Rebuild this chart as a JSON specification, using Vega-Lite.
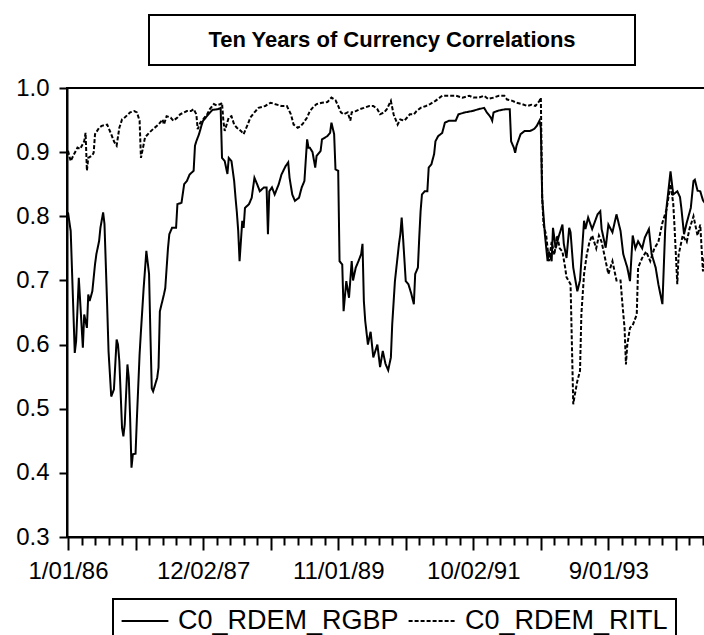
{
  "$schema": "https://vega.github.io/schema/vega-lite/v6.json",
  "padding": {"left": 14, "top": 14, "right": 0, "bottom": 0},
  "background": "white",
  "config": {
    "font": "Liberation Sans",
    "view": {"stroke": "black", "strokeWidth": 2},
    "legend": {"strokeColor": "black", "strokeWidth": 2}
  },
  "datasets": {
    "title": [{"label": "Ten Years of Currency Correlations"}],
    "corr": [
      {"week":0,"series":"C0_RDEM_RGBP","value":0.806},{"week":2,"series":"C0_RDEM_RGBP","value":0.777},{"week":5,"series":"C0_RDEM_RGBP","value":0.587},{"week":6,"series":"C0_RDEM_RGBP","value":0.605},{"week":8,"series":"C0_RDEM_RGBP","value":0.704},{"week":11,"series":"C0_RDEM_RGBP","value":0.595},{"week":12,"series":"C0_RDEM_RGBP","value":0.647},{"week":14,"series":"C0_RDEM_RGBP","value":0.626},{"week":15,"series":"C0_RDEM_RGBP","value":0.678},{"week":16,"series":"C0_RDEM_RGBP","value":0.668},{"week":18,"series":"C0_RDEM_RGBP","value":0.683},{"week":20,"series":"C0_RDEM_RGBP","value":0.725},{"week":21,"series":"C0_RDEM_RGBP","value":0.741},{"week":23,"series":"C0_RDEM_RGBP","value":0.761},{"week":24,"series":"C0_RDEM_RGBP","value":0.782},{"week":26,"series":"C0_RDEM_RGBP","value":0.806},{"week":27,"series":"C0_RDEM_RGBP","value":0.788},{"week":29,"series":"C0_RDEM_RGBP","value":0.66},{"week":30,"series":"C0_RDEM_RGBP","value":0.59},{"week":32,"series":"C0_RDEM_RGBP","value":0.519},{"week":34,"series":"C0_RDEM_RGBP","value":0.53},{"week":36,"series":"C0_RDEM_RGBP","value":0.608},{"week":37,"series":"C0_RDEM_RGBP","value":0.6},{"week":38,"series":"C0_RDEM_RGBP","value":0.574},{"week":39,"series":"C0_RDEM_RGBP","value":0.523},{"week":40,"series":"C0_RDEM_RGBP","value":0.47},{"week":41,"series":"C0_RDEM_RGBP","value":0.457},{"week":42,"series":"C0_RDEM_RGBP","value":0.476},{"week":44,"series":"C0_RDEM_RGBP","value":0.569},{"week":45,"series":"C0_RDEM_RGBP","value":0.548},{"week":46,"series":"C0_RDEM_RGBP","value":0.485},{"week":47,"series":"C0_RDEM_RGBP","value":0.408},{"week":48,"series":"C0_RDEM_RGBP","value":0.429},{"week":50,"series":"C0_RDEM_RGBP","value":0.43},{"week":51,"series":"C0_RDEM_RGBP","value":0.485},{"week":53,"series":"C0_RDEM_RGBP","value":0.585},{"week":54,"series":"C0_RDEM_RGBP","value":0.621},{"week":56,"series":"C0_RDEM_RGBP","value":0.688},{"week":58,"series":"C0_RDEM_RGBP","value":0.746},{"week":60,"series":"C0_RDEM_RGBP","value":0.71},{"week":61,"series":"C0_RDEM_RGBP","value":0.617},{"week":62,"series":"C0_RDEM_RGBP","value":0.532},{"week":63,"series":"C0_RDEM_RGBP","value":0.527},{"week":66,"series":"C0_RDEM_RGBP","value":0.548},{"week":67,"series":"C0_RDEM_RGBP","value":0.564},{"week":68,"series":"C0_RDEM_RGBP","value":0.652},{"week":71,"series":"C0_RDEM_RGBP","value":0.678},{"week":72,"series":"C0_RDEM_RGBP","value":0.688},{"week":74,"series":"C0_RDEM_RGBP","value":0.75},{"week":75,"series":"C0_RDEM_RGBP","value":0.772},{"week":77,"series":"C0_RDEM_RGBP","value":0.782},{"week":80,"series":"C0_RDEM_RGBP","value":0.782},{"week":81,"series":"C0_RDEM_RGBP","value":0.819},{"week":84,"series":"C0_RDEM_RGBP","value":0.821},{"week":86,"series":"C0_RDEM_RGBP","value":0.85},{"week":88,"series":"C0_RDEM_RGBP","value":0.855},{"week":90,"series":"C0_RDEM_RGBP","value":0.865},{"week":93,"series":"C0_RDEM_RGBP","value":0.871},{"week":94,"series":"C0_RDEM_RGBP","value":0.91},{"week":95,"series":"C0_RDEM_RGBP","value":0.917},{"week":97,"series":"C0_RDEM_RGBP","value":0.928},{"week":99,"series":"C0_RDEM_RGBP","value":0.943},{"week":100,"series":"C0_RDEM_RGBP","value":0.949},{"week":104,"series":"C0_RDEM_RGBP","value":0.959},{"week":107,"series":"C0_RDEM_RGBP","value":0.966},{"week":111,"series":"C0_RDEM_RGBP","value":0.967},{"week":113,"series":"C0_RDEM_RGBP","value":0.969},{"week":114,"series":"C0_RDEM_RGBP","value":0.891},{"week":116,"series":"C0_RDEM_RGBP","value":0.886},{"week":118,"series":"C0_RDEM_RGBP","value":0.866},{"week":119,"series":"C0_RDEM_RGBP","value":0.891},{"week":121,"series":"C0_RDEM_RGBP","value":0.886},{"week":123,"series":"C0_RDEM_RGBP","value":0.855},{"week":124,"series":"C0_RDEM_RGBP","value":0.829},{"week":125,"series":"C0_RDEM_RGBP","value":0.806},{"week":126,"series":"C0_RDEM_RGBP","value":0.777},{"week":127,"series":"C0_RDEM_RGBP","value":0.73},{"week":129,"series":"C0_RDEM_RGBP","value":0.793},{"week":130,"series":"C0_RDEM_RGBP","value":0.782},{"week":131,"series":"C0_RDEM_RGBP","value":0.813},{"week":134,"series":"C0_RDEM_RGBP","value":0.819},{"week":136,"series":"C0_RDEM_RGBP","value":0.829},{"week":138,"series":"C0_RDEM_RGBP","value":0.86},{"week":140,"series":"C0_RDEM_RGBP","value":0.85},{"week":142,"series":"C0_RDEM_RGBP","value":0.839},{"week":145,"series":"C0_RDEM_RGBP","value":0.845},{"week":147,"series":"C0_RDEM_RGBP","value":0.845},{"week":148,"series":"C0_RDEM_RGBP","value":0.772},{"week":149,"series":"C0_RDEM_RGBP","value":0.839},{"week":151,"series":"C0_RDEM_RGBP","value":0.845},{"week":153,"series":"C0_RDEM_RGBP","value":0.834},{"week":156,"series":"C0_RDEM_RGBP","value":0.85},{"week":158,"series":"C0_RDEM_RGBP","value":0.865},{"week":161,"series":"C0_RDEM_RGBP","value":0.878},{"week":163,"series":"C0_RDEM_RGBP","value":0.884},{"week":164,"series":"C0_RDEM_RGBP","value":0.86},{"week":166,"series":"C0_RDEM_RGBP","value":0.834},{"week":168,"series":"C0_RDEM_RGBP","value":0.824},{"week":171,"series":"C0_RDEM_RGBP","value":0.829},{"week":173,"series":"C0_RDEM_RGBP","value":0.845},{"week":175,"series":"C0_RDEM_RGBP","value":0.855},{"week":177,"series":"C0_RDEM_RGBP","value":0.92},{"week":178,"series":"C0_RDEM_RGBP","value":0.907},{"week":179,"series":"C0_RDEM_RGBP","value":0.907},{"week":181,"series":"C0_RDEM_RGBP","value":0.9},{"week":183,"series":"C0_RDEM_RGBP","value":0.876},{"week":184,"series":"C0_RDEM_RGBP","value":0.894},{"week":187,"series":"C0_RDEM_RGBP","value":0.902},{"week":188,"series":"C0_RDEM_RGBP","value":0.92},{"week":192,"series":"C0_RDEM_RGBP","value":0.925},{"week":194,"series":"C0_RDEM_RGBP","value":0.93},{"week":195,"series":"C0_RDEM_RGBP","value":0.946},{"week":197,"series":"C0_RDEM_RGBP","value":0.928},{"week":198,"series":"C0_RDEM_RGBP","value":0.873},{"week":200,"series":"C0_RDEM_RGBP","value":0.871},{"week":201,"series":"C0_RDEM_RGBP","value":0.73},{"week":203,"series":"C0_RDEM_RGBP","value":0.725},{"week":204,"series":"C0_RDEM_RGBP","value":0.652},{"week":206,"series":"C0_RDEM_RGBP","value":0.699},{"week":208,"series":"C0_RDEM_RGBP","value":0.673},{"week":210,"series":"C0_RDEM_RGBP","value":0.73},{"week":211,"series":"C0_RDEM_RGBP","value":0.7},{"week":213,"series":"C0_RDEM_RGBP","value":0.72},{"week":215,"series":"C0_RDEM_RGBP","value":0.73},{"week":217,"series":"C0_RDEM_RGBP","value":0.741},{"week":218,"series":"C0_RDEM_RGBP","value":0.757},{"week":219,"series":"C0_RDEM_RGBP","value":0.668},{"week":220,"series":"C0_RDEM_RGBP","value":0.637},{"week":222,"series":"C0_RDEM_RGBP","value":0.6},{"week":224,"series":"C0_RDEM_RGBP","value":0.62},{"week":226,"series":"C0_RDEM_RGBP","value":0.58},{"week":229,"series":"C0_RDEM_RGBP","value":0.6},{"week":231,"series":"C0_RDEM_RGBP","value":0.565},{"week":233,"series":"C0_RDEM_RGBP","value":0.59},{"week":235,"series":"C0_RDEM_RGBP","value":0.57},{"week":237,"series":"C0_RDEM_RGBP","value":0.56},{"week":239,"series":"C0_RDEM_RGBP","value":0.58},{"week":240,"series":"C0_RDEM_RGBP","value":0.632},{"week":242,"series":"C0_RDEM_RGBP","value":0.699},{"week":245,"series":"C0_RDEM_RGBP","value":0.757},{"week":246,"series":"C0_RDEM_RGBP","value":0.772},{"week":247,"series":"C0_RDEM_RGBP","value":0.798},{"week":248,"series":"C0_RDEM_RGBP","value":0.767},{"week":250,"series":"C0_RDEM_RGBP","value":0.699},{"week":252,"series":"C0_RDEM_RGBP","value":0.694},{"week":254,"series":"C0_RDEM_RGBP","value":0.68},{"week":256,"series":"C0_RDEM_RGBP","value":0.663},{"week":257,"series":"C0_RDEM_RGBP","value":0.71},{"week":259,"series":"C0_RDEM_RGBP","value":0.72},{"week":260,"series":"C0_RDEM_RGBP","value":0.767},{"week":261,"series":"C0_RDEM_RGBP","value":0.808},{"week":262,"series":"C0_RDEM_RGBP","value":0.834},{"week":264,"series":"C0_RDEM_RGBP","value":0.839},{"week":266,"series":"C0_RDEM_RGBP","value":0.839},{"week":267,"series":"C0_RDEM_RGBP","value":0.876},{"week":269,"series":"C0_RDEM_RGBP","value":0.881},{"week":271,"series":"C0_RDEM_RGBP","value":0.897},{"week":272,"series":"C0_RDEM_RGBP","value":0.917},{"week":274,"series":"C0_RDEM_RGBP","value":0.925},{"week":277,"series":"C0_RDEM_RGBP","value":0.93},{"week":279,"series":"C0_RDEM_RGBP","value":0.946},{"week":282,"series":"C0_RDEM_RGBP","value":0.949},{"week":287,"series":"C0_RDEM_RGBP","value":0.949},{"week":289,"series":"C0_RDEM_RGBP","value":0.959},{"week":294,"series":"C0_RDEM_RGBP","value":0.962},{"week":299,"series":"C0_RDEM_RGBP","value":0.964},{"week":304,"series":"C0_RDEM_RGBP","value":0.967},{"week":308,"series":"C0_RDEM_RGBP","value":0.969},{"week":310,"series":"C0_RDEM_RGBP","value":0.962},{"week":313,"series":"C0_RDEM_RGBP","value":0.954},{"week":314,"series":"C0_RDEM_RGBP","value":0.949},{"week":315,"series":"C0_RDEM_RGBP","value":0.962},{"week":319,"series":"C0_RDEM_RGBP","value":0.965},{"week":324,"series":"C0_RDEM_RGBP","value":0.967},{"week":327,"series":"C0_RDEM_RGBP","value":0.967},{"week":328,"series":"C0_RDEM_RGBP","value":0.917},{"week":330,"series":"C0_RDEM_RGBP","value":0.907},{"week":331,"series":"C0_RDEM_RGBP","value":0.899},{"week":332,"series":"C0_RDEM_RGBP","value":0.91},{"week":335,"series":"C0_RDEM_RGBP","value":0.928},{"week":338,"series":"C0_RDEM_RGBP","value":0.933},{"week":342,"series":"C0_RDEM_RGBP","value":0.933},{"week":345,"series":"C0_RDEM_RGBP","value":0.936},{"week":347,"series":"C0_RDEM_RGBP","value":0.941},{"week":349,"series":"C0_RDEM_RGBP","value":0.949},{"week":350,"series":"C0_RDEM_RGBP","value":0.938},{"week":351,"series":"C0_RDEM_RGBP","value":0.829},{"week":353,"series":"C0_RDEM_RGBP","value":0.772},{"week":355,"series":"C0_RDEM_RGBP","value":0.73},{"week":356,"series":"C0_RDEM_RGBP","value":0.745},{"week":358,"series":"C0_RDEM_RGBP","value":0.73},{"week":359,"series":"C0_RDEM_RGBP","value":0.782},{"week":361,"series":"C0_RDEM_RGBP","value":0.75},{"week":363,"series":"C0_RDEM_RGBP","value":0.767},{"week":366,"series":"C0_RDEM_RGBP","value":0.787},{"week":367,"series":"C0_RDEM_RGBP","value":0.757},{"week":369,"series":"C0_RDEM_RGBP","value":0.735},{"week":371,"series":"C0_RDEM_RGBP","value":0.782},{"week":372,"series":"C0_RDEM_RGBP","value":0.775},{"week":374,"series":"C0_RDEM_RGBP","value":0.72},{"week":377,"series":"C0_RDEM_RGBP","value":0.683},{"week":379,"series":"C0_RDEM_RGBP","value":0.7},{"week":382,"series":"C0_RDEM_RGBP","value":0.793},{"week":383,"series":"C0_RDEM_RGBP","value":0.78},{"week":385,"series":"C0_RDEM_RGBP","value":0.798},{"week":388,"series":"C0_RDEM_RGBP","value":0.78},{"week":392,"series":"C0_RDEM_RGBP","value":0.803},{"week":394,"series":"C0_RDEM_RGBP","value":0.808},{"week":395,"series":"C0_RDEM_RGBP","value":0.78},{"week":398,"series":"C0_RDEM_RGBP","value":0.751},{"week":400,"series":"C0_RDEM_RGBP","value":0.787},{"week":403,"series":"C0_RDEM_RGBP","value":0.775},{"week":406,"series":"C0_RDEM_RGBP","value":0.803},{"week":409,"series":"C0_RDEM_RGBP","value":0.777},{"week":411,"series":"C0_RDEM_RGBP","value":0.741},{"week":414,"series":"C0_RDEM_RGBP","value":0.72},{"week":416,"series":"C0_RDEM_RGBP","value":0.699},{"week":418,"series":"C0_RDEM_RGBP","value":0.77},{"week":420,"series":"C0_RDEM_RGBP","value":0.75},{"week":422,"series":"C0_RDEM_RGBP","value":0.761},{"week":425,"series":"C0_RDEM_RGBP","value":0.75},{"week":427,"series":"C0_RDEM_RGBP","value":0.767},{"week":430,"series":"C0_RDEM_RGBP","value":0.78},{"week":432,"series":"C0_RDEM_RGBP","value":0.741},{"week":435,"series":"C0_RDEM_RGBP","value":0.72},{"week":437,"series":"C0_RDEM_RGBP","value":0.694},{"week":440,"series":"C0_RDEM_RGBP","value":0.663},{"week":442,"series":"C0_RDEM_RGBP","value":0.777},{"week":443,"series":"C0_RDEM_RGBP","value":0.813},{"week":446,"series":"C0_RDEM_RGBP","value":0.87},{"week":448,"series":"C0_RDEM_RGBP","value":0.834},{"week":451,"series":"C0_RDEM_RGBP","value":0.839},{"week":453,"series":"C0_RDEM_RGBP","value":0.83},{"week":454,"series":"C0_RDEM_RGBP","value":0.813},{"week":456,"series":"C0_RDEM_RGBP","value":0.772},{"week":458,"series":"C0_RDEM_RGBP","value":0.79},{"week":461,"series":"C0_RDEM_RGBP","value":0.813},{"week":463,"series":"C0_RDEM_RGBP","value":0.855},{"week":464,"series":"C0_RDEM_RGBP","value":0.857},{"week":466,"series":"C0_RDEM_RGBP","value":0.84},{"week":468,"series":"C0_RDEM_RGBP","value":0.839},{"week":470,"series":"C0_RDEM_RGBP","value":0.825},{"week":472,"series":"C0_RDEM_RGBP","value":0.819},{"week":474,"series":"C0_RDEM_RGBP","value":0.81},{"week":477,"series":"C0_RDEM_RGBP","value":0.82},{"week":480,"series":"C0_RDEM_RGBP","value":0.81},
      {"week":0,"series":"C0_RDEM_RITL","value":0.902},{"week":2,"series":"C0_RDEM_RITL","value":0.886},{"week":4,"series":"C0_RDEM_RITL","value":0.895},{"week":7,"series":"C0_RDEM_RITL","value":0.907},{"week":9,"series":"C0_RDEM_RITL","value":0.905},{"week":12,"series":"C0_RDEM_RITL","value":0.917},{"week":13,"series":"C0_RDEM_RITL","value":0.93},{"week":14,"series":"C0_RDEM_RITL","value":0.871},{"week":15,"series":"C0_RDEM_RITL","value":0.891},{"week":18,"series":"C0_RDEM_RITL","value":0.895},{"week":19,"series":"C0_RDEM_RITL","value":0.899},{"week":20,"series":"C0_RDEM_RITL","value":0.928},{"week":23,"series":"C0_RDEM_RITL","value":0.938},{"week":25,"series":"C0_RDEM_RITL","value":0.941},{"week":29,"series":"C0_RDEM_RITL","value":0.943},{"week":30,"series":"C0_RDEM_RITL","value":0.938},{"week":32,"series":"C0_RDEM_RITL","value":0.928},{"week":34,"series":"C0_RDEM_RITL","value":0.917},{"week":35,"series":"C0_RDEM_RITL","value":0.913},{"week":36,"series":"C0_RDEM_RITL","value":0.91},{"week":38,"series":"C0_RDEM_RITL","value":0.938},{"week":40,"series":"C0_RDEM_RITL","value":0.951},{"week":42,"series":"C0_RDEM_RITL","value":0.954},{"week":46,"series":"C0_RDEM_RITL","value":0.962},{"week":49,"series":"C0_RDEM_RITL","value":0.964},{"week":51,"series":"C0_RDEM_RITL","value":0.962},{"week":53,"series":"C0_RDEM_RITL","value":0.949},{"week":54,"series":"C0_RDEM_RITL","value":0.891},{"week":56,"series":"C0_RDEM_RITL","value":0.912},{"week":57,"series":"C0_RDEM_RITL","value":0.923},{"week":60,"series":"C0_RDEM_RITL","value":0.93},{"week":63,"series":"C0_RDEM_RITL","value":0.936},{"week":67,"series":"C0_RDEM_RITL","value":0.943},{"week":70,"series":"C0_RDEM_RITL","value":0.951},{"week":71,"series":"C0_RDEM_RITL","value":0.943},{"week":73,"series":"C0_RDEM_RITL","value":0.956},{"week":76,"series":"C0_RDEM_RITL","value":0.954},{"week":78,"series":"C0_RDEM_RITL","value":0.949},{"week":81,"series":"C0_RDEM_RITL","value":0.954},{"week":83,"series":"C0_RDEM_RITL","value":0.959},{"week":86,"series":"C0_RDEM_RITL","value":0.962},{"week":88,"series":"C0_RDEM_RITL","value":0.964},{"week":91,"series":"C0_RDEM_RITL","value":0.964},{"week":93,"series":"C0_RDEM_RITL","value":0.967},{"week":95,"series":"C0_RDEM_RITL","value":0.959},{"week":96,"series":"C0_RDEM_RITL","value":0.936},{"week":98,"series":"C0_RDEM_RITL","value":0.946},{"week":100,"series":"C0_RDEM_RITL","value":0.951},{"week":103,"series":"C0_RDEM_RITL","value":0.959},{"week":105,"series":"C0_RDEM_RITL","value":0.967},{"week":108,"series":"C0_RDEM_RITL","value":0.975},{"week":110,"series":"C0_RDEM_RITL","value":0.973},{"week":113,"series":"C0_RDEM_RITL","value":0.975},{"week":114,"series":"C0_RDEM_RITL","value":0.977},{"week":115,"series":"C0_RDEM_RITL","value":0.949},{"week":116,"series":"C0_RDEM_RITL","value":0.933},{"week":119,"series":"C0_RDEM_RITL","value":0.954},{"week":121,"series":"C0_RDEM_RITL","value":0.956},{"week":123,"series":"C0_RDEM_RITL","value":0.943},{"week":125,"series":"C0_RDEM_RITL","value":0.938},{"week":128,"series":"C0_RDEM_RITL","value":0.933},{"week":130,"series":"C0_RDEM_RITL","value":0.928},{"week":133,"series":"C0_RDEM_RITL","value":0.943},{"week":135,"series":"C0_RDEM_RITL","value":0.954},{"week":138,"series":"C0_RDEM_RITL","value":0.962},{"week":141,"series":"C0_RDEM_RITL","value":0.969},{"week":146,"series":"C0_RDEM_RITL","value":0.972},{"week":150,"series":"C0_RDEM_RITL","value":0.977},{"week":153,"series":"C0_RDEM_RITL","value":0.975},{"week":158,"series":"C0_RDEM_RITL","value":0.972},{"week":162,"series":"C0_RDEM_RITL","value":0.972},{"week":165,"series":"C0_RDEM_RITL","value":0.959},{"week":167,"series":"C0_RDEM_RITL","value":0.943},{"week":170,"series":"C0_RDEM_RITL","value":0.938},{"week":172,"series":"C0_RDEM_RITL","value":0.94},{"week":174,"series":"C0_RDEM_RITL","value":0.945},{"week":177,"series":"C0_RDEM_RITL","value":0.954},{"week":179,"series":"C0_RDEM_RITL","value":0.964},{"week":181,"series":"C0_RDEM_RITL","value":0.969},{"week":184,"series":"C0_RDEM_RITL","value":0.975},{"week":188,"series":"C0_RDEM_RITL","value":0.977},{"week":192,"series":"C0_RDEM_RITL","value":0.978},{"week":195,"series":"C0_RDEM_RITL","value":0.985},{"week":198,"series":"C0_RDEM_RITL","value":0.981},{"week":200,"series":"C0_RDEM_RITL","value":0.972},{"week":202,"series":"C0_RDEM_RITL","value":0.962},{"week":204,"series":"C0_RDEM_RITL","value":0.959},{"week":207,"series":"C0_RDEM_RITL","value":0.962},{"week":209,"series":"C0_RDEM_RITL","value":0.949},{"week":210,"series":"C0_RDEM_RITL","value":0.962},{"week":213,"series":"C0_RDEM_RITL","value":0.964},{"week":216,"series":"C0_RDEM_RITL","value":0.967},{"week":219,"series":"C0_RDEM_RITL","value":0.969},{"week":223,"series":"C0_RDEM_RITL","value":0.972},{"week":226,"series":"C0_RDEM_RITL","value":0.972},{"week":229,"series":"C0_RDEM_RITL","value":0.967},{"week":231,"series":"C0_RDEM_RITL","value":0.959},{"week":234,"series":"C0_RDEM_RITL","value":0.962},{"week":236,"series":"C0_RDEM_RITL","value":0.967},{"week":239,"series":"C0_RDEM_RITL","value":0.98},{"week":241,"series":"C0_RDEM_RITL","value":0.959},{"week":244,"series":"C0_RDEM_RITL","value":0.943},{"week":246,"series":"C0_RDEM_RITL","value":0.951},{"week":249,"series":"C0_RDEM_RITL","value":0.949},{"week":251,"series":"C0_RDEM_RITL","value":0.954},{"week":253,"series":"C0_RDEM_RITL","value":0.959},{"week":256,"series":"C0_RDEM_RITL","value":0.959},{"week":258,"series":"C0_RDEM_RITL","value":0.964},{"week":261,"series":"C0_RDEM_RITL","value":0.969},{"week":265,"series":"C0_RDEM_RITL","value":0.972},{"week":268,"series":"C0_RDEM_RITL","value":0.975},{"week":272,"series":"C0_RDEM_RITL","value":0.98},{"week":277,"series":"C0_RDEM_RITL","value":0.988},{"week":282,"series":"C0_RDEM_RITL","value":0.988},{"week":287,"series":"C0_RDEM_RITL","value":0.988},{"week":292,"series":"C0_RDEM_RITL","value":0.985},{"week":297,"series":"C0_RDEM_RITL","value":0.988},{"week":300,"series":"C0_RDEM_RITL","value":0.985},{"week":304,"series":"C0_RDEM_RITL","value":0.985},{"week":308,"series":"C0_RDEM_RITL","value":0.988},{"week":311,"series":"C0_RDEM_RITL","value":0.983},{"week":315,"series":"C0_RDEM_RITL","value":0.985},{"week":319,"series":"C0_RDEM_RITL","value":0.988},{"week":323,"series":"C0_RDEM_RITL","value":0.988},{"week":325,"series":"C0_RDEM_RITL","value":0.982},{"week":329,"series":"C0_RDEM_RITL","value":0.98},{"week":332,"series":"C0_RDEM_RITL","value":0.977},{"week":336,"series":"C0_RDEM_RITL","value":0.975},{"week":340,"series":"C0_RDEM_RITL","value":0.972},{"week":343,"series":"C0_RDEM_RITL","value":0.974},{"week":346,"series":"C0_RDEM_RITL","value":0.972},{"week":349,"series":"C0_RDEM_RITL","value":0.98},{"week":350,"series":"C0_RDEM_RITL","value":0.985},{"week":351,"series":"C0_RDEM_RITL","value":0.829},{"week":352,"series":"C0_RDEM_RITL","value":0.787},{"week":354,"series":"C0_RDEM_RITL","value":0.77},{"week":356,"series":"C0_RDEM_RITL","value":0.73},{"week":358,"series":"C0_RDEM_RITL","value":0.76},{"week":360,"series":"C0_RDEM_RITL","value":0.74},{"week":362,"series":"C0_RDEM_RITL","value":0.77},{"week":364,"series":"C0_RDEM_RITL","value":0.75},{"week":366,"series":"C0_RDEM_RITL","value":0.745},{"week":368,"series":"C0_RDEM_RITL","value":0.72},{"week":369,"series":"C0_RDEM_RITL","value":0.705},{"week":372,"series":"C0_RDEM_RITL","value":0.694},{"week":374,"series":"C0_RDEM_RITL","value":0.507},{"week":375,"series":"C0_RDEM_RITL","value":0.52},{"week":377,"series":"C0_RDEM_RITL","value":0.543},{"week":379,"series":"C0_RDEM_RITL","value":0.559},{"week":380,"series":"C0_RDEM_RITL","value":0.647},{"week":382,"series":"C0_RDEM_RITL","value":0.71},{"week":384,"series":"C0_RDEM_RITL","value":0.74},{"week":386,"series":"C0_RDEM_RITL","value":0.76},{"week":388,"series":"C0_RDEM_RITL","value":0.77},{"week":391,"series":"C0_RDEM_RITL","value":0.75},{"week":393,"series":"C0_RDEM_RITL","value":0.77},{"week":395,"series":"C0_RDEM_RITL","value":0.76},{"week":398,"series":"C0_RDEM_RITL","value":0.73},{"week":400,"series":"C0_RDEM_RITL","value":0.71},{"week":403,"series":"C0_RDEM_RITL","value":0.73},{"week":406,"series":"C0_RDEM_RITL","value":0.7},{"week":409,"series":"C0_RDEM_RITL","value":0.7},{"week":410,"series":"C0_RDEM_RITL","value":0.673},{"week":412,"series":"C0_RDEM_RITL","value":0.625},{"week":413,"series":"C0_RDEM_RITL","value":0.569},{"week":414,"series":"C0_RDEM_RITL","value":0.6},{"week":416,"series":"C0_RDEM_RITL","value":0.626},{"week":418,"series":"C0_RDEM_RITL","value":0.63},{"week":421,"series":"C0_RDEM_RITL","value":0.647},{"week":422,"series":"C0_RDEM_RITL","value":0.72},{"week":425,"series":"C0_RDEM_RITL","value":0.735},{"week":428,"series":"C0_RDEM_RITL","value":0.745},{"week":431,"series":"C0_RDEM_RITL","value":0.73},{"week":434,"series":"C0_RDEM_RITL","value":0.75},{"week":437,"series":"C0_RDEM_RITL","value":0.76},{"week":440,"series":"C0_RDEM_RITL","value":0.79},{"week":443,"series":"C0_RDEM_RITL","value":0.81},{"week":446,"series":"C0_RDEM_RITL","value":0.85},{"week":448,"series":"C0_RDEM_RITL","value":0.82},{"week":449,"series":"C0_RDEM_RITL","value":0.782},{"week":451,"series":"C0_RDEM_RITL","value":0.694},{"week":452,"series":"C0_RDEM_RITL","value":0.74},{"week":455,"series":"C0_RDEM_RITL","value":0.77},{"week":458,"series":"C0_RDEM_RITL","value":0.76},{"week":460,"series":"C0_RDEM_RITL","value":0.78},{"week":463,"series":"C0_RDEM_RITL","value":0.8},{"week":466,"series":"C0_RDEM_RITL","value":0.77},{"week":468,"series":"C0_RDEM_RITL","value":0.787},{"week":470,"series":"C0_RDEM_RITL","value":0.714},{"week":472,"series":"C0_RDEM_RITL","value":0.75},{"week":474,"series":"C0_RDEM_RITL","value":0.74},{"week":477,"series":"C0_RDEM_RITL","value":0.76},{"week":480,"series":"C0_RDEM_RITL","value":0.75}
    ]
  },
  "vconcat": [
    {
      "width": 486,
      "height": 50,
      "data": {"name": "title"},
      "mark": {"type": "text", "font": "Liberation Sans", "fontWeight": "bold", "fontSize": 22, "color": "black", "align": "center", "baseline": "middle"},
      "encoding": {
        "x": {"field": "label", "type": "nominal", "axis": null},
        "y": {"field": "label", "type": "nominal", "axis": null},
        "text": {"field": "label"}
      }
    },
    {
      "width": 650,
      "height": 449,
      "data": {"name": "corr"},
      "mark": {"type": "line", "color": "black", "strokeWidth": 2},
      "encoding": {
        "x": {
          "field": "week", "type": "quantitative",
          "scale": {"domain": [-0.74, 480.4], "nice": false, "zero": false},
          "axis": {
            "title": null, "grid": false,
            "values": [0,10,20,30,40,50,60,70,80,90,100,110,120,130,140,150,160,170,180,190,200,210,220,230,240,250,260,270,280,290,300,310,320,330,340,350,360,370,380,390,400,410,420,430,440,450,460,470,480],
            "tickSize": {"condition": {"test": "datum.value % 50 === 0", "value": 13}, "value": 8},
            "tickWidth": 2, "tickColor": "black",
            "domainWidth": 2, "domainColor": "black",
            "labelExpr": "datum.value % 100 === 0 ? timeFormat(datetime(1986, 0, 1 + datum.value * 7), '%-m/%d/%y') : ''",
            "labelFont": "Liberation Sans", "labelFontSize": 24, "labelColor": "black",
            "labelPadding": 9, "labelOverlap": false, "labelFlush": false, "labelBound": false
          }
        },
        "y": {
          "field": "value", "type": "quantitative",
          "scale": {"domain": [0.3, 1.0], "nice": false, "zero": false},
          "axis": {
            "title": null, "grid": false,
            "values": [0.3,0.4,0.5,0.6,0.7,0.8,0.9,1.0],
            "format": ".1f",
            "tickSize": 8, "tickWidth": 2, "tickColor": "black",
            "domainWidth": 2, "domainColor": "black",
            "labelFont": "Liberation Sans", "labelFontSize": 24, "labelColor": "black",
            "labelPadding": 10, "labelOverlap": false, "labelFlush": false
          }
        },
        "strokeDash": {
          "field": "series", "type": "nominal",
          "scale": {"domain": ["C0_RDEM_RGBP", "C0_RDEM_RITL"], "range": [[1, 0], [4, 2]]},
          "legend": {
            "orient": "none", "legendX": 46, "legendY": 584,
            "direction": "horizontal", "title": null,
            "padding": 8,
            "symbolType": "M-1.8,0H1.8", "symbolSize": 676, "symbolOffset": 10, "symbolStrokeWidth": 2, "symbolStrokeColor": "black",
            "labelFont": "Liberation Sans", "labelFontSize": 27, "labelColor": "black", "labelLimit": 500,
            "labelOffset": 19, "columnPadding": 5
          }
        }
      }
    }
  ],
  "spacing": 23,
  "center": true,
  "bounds": "flush"
}
